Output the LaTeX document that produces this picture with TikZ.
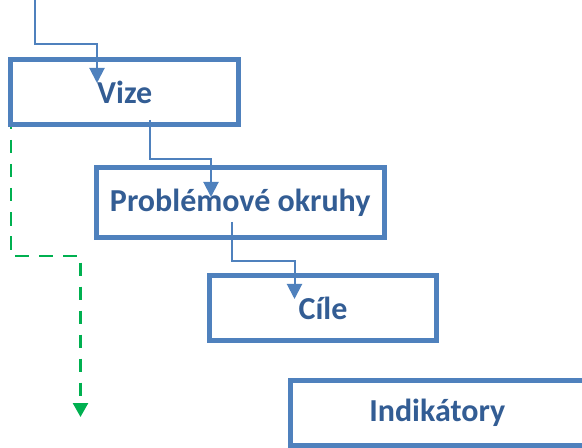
\documentclass[tikz,border=0pt]{standalone}
\usepackage{fontspec}
\setmainfont{Carlito}
\usetikzlibrary{arrows.meta}
\definecolor{boxblue}{HTML}{4F81BD}
\definecolor{textblue}{HTML}{335D94}
\definecolor{dashgreen}{HTML}{00B050}
\pgfdeclarelayer{background}
\pgfsetlayers{background,main}
\begin{document}
\begin{tikzpicture}[x=1bp,y=-1bp,
	stepbox/.style={draw=boxblue,line width=5bp,fill=white,inner sep=0pt,outer sep=0pt,
		minimum height=65bp,text=textblue,font=\bfseries\fontsize{32bp}{38bp}\selectfont},
	link/.style={draw=boxblue,line width=2bp,-{Triangle[width=15bp,length=15bp]}},
	dashlink/.style={draw=dashgreen,line width=2.5bp,dash pattern=on 13.5bp off 10.5bp,
		-{Triangle[width=15bp,length=14bp]}}]
	\useasboundingbox (0,0) rectangle (582,448);
	\clip (0,0) rectangle (582,448);
	%%%%%%%%
	\node[stepbox,minimum width=227.5bp] (vize) at (124.75,92) {Vize};
	\node[stepbox,minimum width=288.5bp,minimum height=70bp] (probl) at (240.25,202.5) {Problémové okruhy};
	\node[stepbox,minimum width=227bp] (cile) at (323,308) {Cíle};
	\node[stepbox,minimum width=293.5bp] (indik) at (437.25,413) {Indikátory};
	%%%%%%%%
	\coordinate (top) at (35,0);
	\coordinate (vizein) at ([xshift=86bp,yshift=-23.5bp]vize.north west);
	\coordinate (vizeout) at ([xshift=139bp,yshift=4.5bp]vize.south west);
	\coordinate (problin) at ([xshift=115bp,yshift=-29.5bp]probl.north west);
	\coordinate (problout) at ([xshift=136bp,yshift=15.5bp]probl.south west);
	\coordinate (cilein) at ([xshift=85bp,yshift=-23.5bp]cile.north west);
	\coordinate (greenend) at (80.5,417);
	\draw[link] (top) -- ++(0,44) -| (vizein);
	\draw[link] (vizeout) -- ++(0,39) -| (problin);
	\draw[link] (problout) -- ++(0,39) -| (cilein);
	\begin{pgfonlayer}{background}
		\draw[dashlink] (vize.west) -- ++(0,164) -| (greenend);
	\end{pgfonlayer}
\end{tikzpicture}
\end{document}
